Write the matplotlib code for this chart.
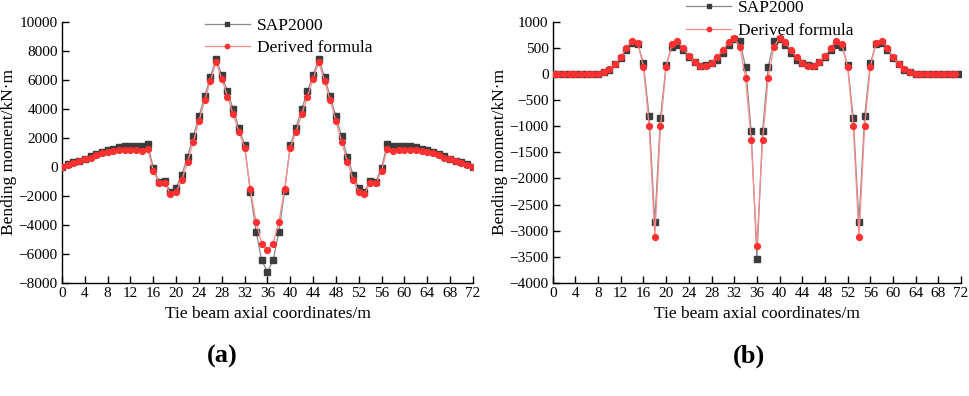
import matplotlib
matplotlib.use("Agg")
import matplotlib.pyplot as plt
import numpy as np

plt.rcParams['font.family'] = ['Liberation Serif', 'DejaVu Serif']
plt.rcParams['axes.unicode_minus'] = True

x = list(range(0, 73))

sap_a = [0, 160, 300, 410, 550, 730, 870, 1010, 1130, 1240, 1350, 1400, 1420, 1420, 1420, 1560,
         -50, -1030, -990, -1700, -1450, -530, 710, 2090, 3490, 4850, 6180, 7450, 6320, 5200,
         3950, 2690, 1490, -1720, -4460, -6440, -7240, -6440, -4460, -1680, 1490, 2690, 3950,
         5200, 6320, 7450, 6180, 4850, 3490, 2090, 710, -530, -1450, -1700, -990, -1030, -50,
         1560, 1420, 1420, 1420, 1400, 1350, 1240, 1130, 1010, 870, 730, 550, 410, 300, 160, 0]
der_a = [0, 140, 280, 390, 510, 640, 780, 920, 1010, 1080, 1150, 1170, 1170, 1130, 1100, 1260,
         -280, -1130, -1100, -1890, -1720, -900, 350, 1720, 3150, 4580, 5910, 7200, 6050, 4830,
         3610, 2410, 1330, -1540, -3790, -5290, -5700, -5290, -3790, -1520, 1330, 2410, 3610,
         4830, 6050, 7200, 5910, 4580, 3150, 1720, 350, -900, -1720, -1890, -1100, -1130, -280,
         1260, 1100, 1130, 1170, 1170, 1150, 1080, 1010, 920, 780, 640, 510, 390, 280, 140, 0]

sap_b = [0, 0, 0, 0, 0, 0, 0, 0, 5, 40, 80, 180, 300, 460, 590, 580, 200, -810, -2840, -840,
         170, 520, 550, 450, 330, 220, 160, 165, 210, 270, 400, 560, 660, 620, 140, -1100,
         -3550, -1100, 140, 620, 660, 560, 400, 270, 210, 165, 160, 220, 330, 450, 550, 520,
         170, -840, -2840, -810, 200, 580, 590, 460, 300, 180, 80, 40, 5, 0, 0, 0, 0, 0, 0, 0, 0]
x_der_b = list(range(0, 72))
der_b = [0, 0, 0, 0, 0, 0, 0, 0, 5, 40, 85, 180, 325, 500, 635, 585, 140, -1000, -3120, -1000,
         135, 565, 625, 500, 345, 220, 150, 150, 200, 320, 460, 605, 690, 515, -70, -1270,
         -3290, -1270, -70, 515, 690, 605, 460, 320, 200, 150, 150, 220, 345, 500, 625, 565,
         135, -1000, -3120, -1000, 140, 585, 635, 500, 325, 180, 85, 40, 5, 0, 0, 0, 0, 0, 0, 0]

xticks = list(range(0, 73, 4))
yticks_a = list(range(-8000, 10001, 2000))
yticks_b = list(range(-4000, 1001, 500))

fig = plt.figure(figsize=(9.69, 3.96), dpi=100)
ax1 = fig.add_axes([0.064, 0.2854, 0.424, 0.660])
ax2 = fig.add_axes([0.5704, 0.2854, 0.4214, 0.660])

def style(ax, yticks, ylim):
    ax.set_xlim(0, 72)
    ax.set_ylim(*ylim)
    ax.set_xticks(xticks)
    ax.set_yticks(yticks)
    for s in ['top', 'right']:
        ax.spines[s].set_visible(False)
    for s in ['left', 'bottom']:
        ax.spines[s].set_linewidth(1.0)
    ax.tick_params(direction='in', length=5, width=1.0, labelsize=11, pad=3)
    ax.set_xlabel('Tie beam axial coordinates/m', fontsize=12.5, labelpad=4)
    ax.set_ylabel('Bending moment/kN·m', fontsize=12.5, labelpad=1)

for ax, xs_d, s, d, yt, yl, anchor in [
        (ax1, x, sap_a, der_a, yticks_a, (-8000, 10000), (0.33, 1.042)),
        (ax2, x_der_b, sap_b, der_b, yticks_b, (-4000, 1000), (0.31, 1.108))]:
    ax.plot(x, s, color='#8a8a8a', lw=0.9, marker='s', ms=4, mfc='#3c3c3c', mec='#3c3c3c',
            label='SAP2000', zorder=3)
    ax.plot(xs_d, d, color='#ff8c8c', lw=0.9, marker='o', ms=4.2, mfc='#ff3030', mec='#ff3030',
            label='Derived formula', zorder=4)
    style(ax, yt, yl)
    ax.legend(loc='upper left', bbox_to_anchor=anchor, frameon=False, fontsize=12.5,
              handlelength=2.6, handletextpad=0.4, labelspacing=0.35, borderaxespad=0,
              markerscale=0.75)

fig.text(0.229, 0.10, '(a)', fontsize=19, fontweight='bold', ha='center', va='center')
fig.text(0.773, 0.10, '(b)', fontsize=19, fontweight='bold', ha='center', va='center')

fig.savefig('out.png', dpi=100)
